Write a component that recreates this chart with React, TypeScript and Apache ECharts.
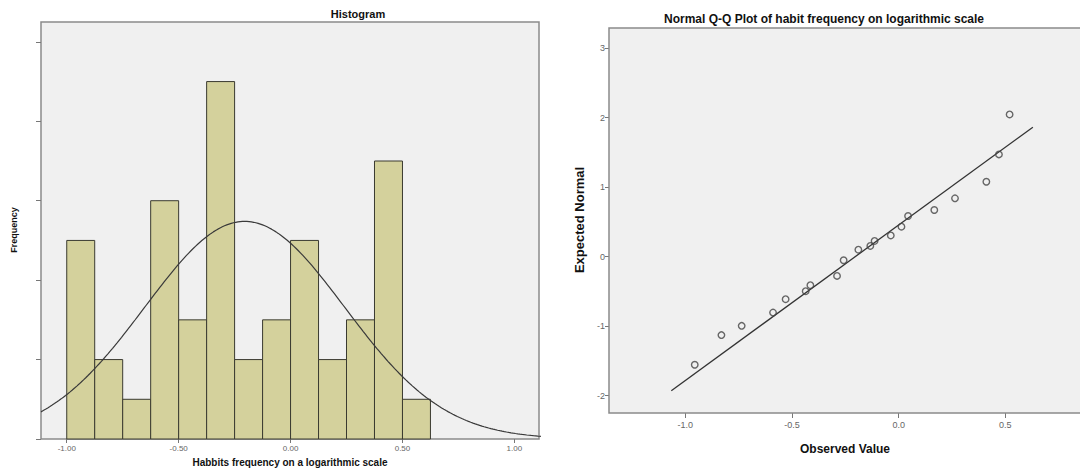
import React, { useEffect, useRef } from "react";
import * as echarts from "echarts";

// ---------- Histogram data ----------
const BIN_EDGES = [-1.0, -0.875, -0.75, -0.625, -0.5, -0.375, -0.25, -0.125, 0.0, 0.125, 0.25, 0.375, 0.5, 0.625];
const BIN_COUNTS = [5, 2, 1, 6, 3, 9, 2, 3, 5, 2, 3, 7, 1];
const HIST_X_TICKS = [-1.0, -0.5, 0.0, 0.5, 1.0];
const HIST_Y_TICKS = [0, 2, 4, 6, 8, 10];
const FIT_MEAN = -0.205;
const FIT_SD = 0.446;

// ---------- Q-Q data ----------
const QQ_OBSERVED = [-0.956, -0.831, -0.736, -0.589, -0.53, -0.436, -0.414, -0.289, -0.258, -0.189, -0.133, -0.113, -0.037, 0.013, 0.044, 0.167, 0.264, 0.411, 0.47, 0.52];
const QQ_EXPECTED = [-1.556, -1.129, -0.996, -0.805, -0.612, -0.497, -0.411, -0.277, -0.052, 0.1, 0.154, 0.226, 0.305, 0.431, 0.585, 0.671, 0.839, 1.078, 1.471, 2.046];
const QQ_LINE_X = [-1.066, 0.629];
const QQ_LINE_Y = [-1.93, 1.863];
const QQ_X_TICKS = [-1.0, -0.5, 0.0, 0.5];
const QQ_Y_TICKS = [-2, -1, 0, 1, 2, 3];

const FONT = "'Liberation Sans', Arial, sans-serif";

export default function App() {
  const ref = useRef<HTMLDivElement>(null);
  useEffect(() => {
    if (!ref.current) return;
    const chart = echarts.init(ref.current, null, { renderer: "svg" });

    const total = BIN_COUNTS.reduce((a, b) => a + b, 0);
    const binW = BIN_EDGES[1] - BIN_EDGES[0];
    const curve: number[][] = [];
    for (let i = 0; i <= 225; i++) {
      const x = -1.115 + i * 0.01;
      const z = (x - FIT_MEAN) / FIT_SD;
      curve.push([x, (total * binW * Math.exp(-0.5 * z * z)) / (FIT_SD * Math.sqrt(2 * Math.PI))]);
    }
    const bars = BIN_COUNTS.map((c, i) => [BIN_EDGES[i], BIN_EDGES[i + 1], c]);

    const hideLine = { show: false, onZero: false };

    chart.setOption({
      animation: false,
      backgroundColor: "#ffffff",
      textStyle: { fontFamily: FONT },
      grid: [
        { left: 41, right: 541, top: 22, bottom: 31, show: true, backgroundColor: "#f0f0f0", borderColor: "#8a8a8a", borderWidth: 1.5 },
        { left: 609, right: 0, top: 28, bottom: 57, show: true, backgroundColor: "#f0f0f0", borderWidth: 0 },
      ],
      xAxis: [
        {
          type: "value", gridIndex: 0, min: -1.115, max: 1.11, position: "bottom",
          axisLine: hideLine, splitLine: { show: false },
          axisTick: { show: true, customValues: HIST_X_TICKS, length: 4, lineStyle: { color: "#777" } },
          axisLabel: { customValues: HIST_X_TICKS, formatter: (v: number) => v.toFixed(2), fontSize: 8, color: "#666", margin: 5, fontFamily: FONT },
        },
        {
          type: "value", gridIndex: 1, min: -1.358, max: 0.85, position: "bottom",
          axisLine: hideLine, splitLine: { show: false },
          axisTick: { show: true, customValues: QQ_X_TICKS, length: 5, lineStyle: { color: "#777" } },
          axisLabel: { customValues: QQ_X_TICKS, formatter: (v: number) => v.toFixed(1), fontSize: 9, color: "#666", margin: 7, fontFamily: FONT },
        },
      ],
      yAxis: [
        {
          type: "value", gridIndex: 0, min: 0, max: 10.5, position: "left",
          axisLine: hideLine, splitLine: { show: false },
          axisTick: { show: true, customValues: HIST_Y_TICKS, length: 5, lineStyle: { color: "#777" } },
          axisLabel: { show: false },
        },
        {
          type: "value", gridIndex: 1, min: -2.25, max: 3.29, position: "left",
          axisLine: hideLine, splitLine: { show: false },
          axisTick: { show: true, customValues: QQ_Y_TICKS, length: 4, lineStyle: { color: "#777" } },
          axisLabel: { customValues: QQ_Y_TICKS, fontSize: 9, color: "#666", margin: 4, fontFamily: FONT },
        },
      ],
      series: [
        {
          type: "custom", xAxisIndex: 0, yAxisIndex: 0, data: bars,
          renderItem: (params: any, api: any) => {
            const p0 = api.coord([api.value(0), api.value(2)]);
            const p1 = api.coord([api.value(1), 0]);
            return {
              type: "rect",
              shape: { x: p0[0], y: p0[1], width: p1[0] - p0[0], height: p1[1] - p0[1] },
              style: { fill: "#d4d19c", stroke: "#3a3a30", lineWidth: 1 },
            };
          },
        },
        {
          type: "line", xAxisIndex: 0, yAxisIndex: 0, data: curve, showSymbol: false,
          lineStyle: { color: "#3a3a3a", width: 1.2 }, z: 5,
        },
        {
          type: "line", xAxisIndex: 1, yAxisIndex: 1,
          data: QQ_LINE_X.map((x, i) => [x, QQ_LINE_Y[i]]), showSymbol: false,
          lineStyle: { color: "#333", width: 1.3 },
        },
        {
          type: "scatter", xAxisIndex: 1, yAxisIndex: 1,
          data: QQ_OBSERVED.map((x, i) => [x, QQ_EXPECTED[i]]),
          symbol: "circle", symbolSize: 6.5,
          itemStyle: { color: "rgba(0,0,0,0)", borderColor: "#444", borderWidth: 1.4 },
          z: 6,
        },
      ],
      graphic: [
        { type: "polyline", shape: { points: [[1082, 28], [609, 28], [609, 413], [1082, 413]] }, style: { stroke: "#8a8a8a", lineWidth: 1.5, fill: "none" }, z: 10 },
        { type: "text", x: 358, y: 14, style: { text: "Histogram", font: `bold 11px ${FONT}`, fill: "#111", textAlign: "center", textVerticalAlign: "middle" } },
        { type: "text", x: 290, y: 462, style: { text: "Habbits frequency on a logarithmic scale", font: `bold 10px ${FONT}`, fill: "#111", textAlign: "center", textVerticalAlign: "middle" } },
        { type: "text", x: 14, y: 230, rotation: Math.PI / 2, style: { text: "Frequency", font: `bold 9px ${FONT}`, fill: "#111", textAlign: "center", textVerticalAlign: "middle" } },
        { type: "text", x: 824, y: 19, style: { text: "Normal Q-Q Plot of habit frequency on logarithmic scale", font: `bold 12px ${FONT}`, fill: "#111", textAlign: "center", textVerticalAlign: "middle" } },
        { type: "text", x: 845, y: 449, style: { text: "Observed Value", font: `bold 12px ${FONT}`, fill: "#111", textAlign: "center", textVerticalAlign: "middle" } },
        { type: "text", x: 579, y: 220, rotation: Math.PI / 2, style: { text: "Expected Normal", font: `bold 13px ${FONT}`, fill: "#111", textAlign: "center", textVerticalAlign: "middle" } },
      ],
    });
    return () => chart.dispose();
  }, []);
  return <div ref={ref} style={{ position: "fixed", left: 0, top: 0, width: 1080, height: 470 }} />;
}
